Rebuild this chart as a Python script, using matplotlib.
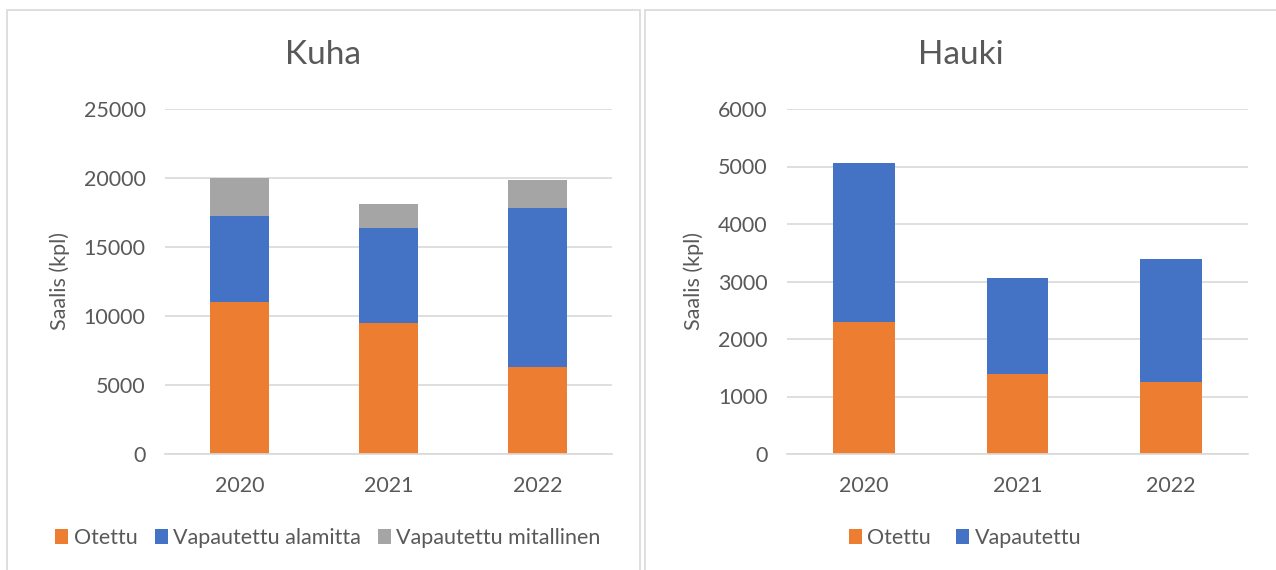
import matplotlib.pyplot as plt
import numpy as np
from matplotlib.patches import Rectangle

plt.rcParams['font.family'] = ['Lato', 'DejaVu Sans']

years = ["2020", "2021", "2022"]

kuha_otettu = [11050, 9470, 6300]
kuha_alamitta = [6220, 6930, 11550]
kuha_mitallinen = [2750, 1740, 2010]
kuha_labels = ["Otettu", "Vapautettu alamitta", "Vapautettu mitallinen"]

hauki_otettu = [2290, 1400, 1250]
hauki_vapautettu = [2775, 1660, 2135]
hauki_labels = ["Otettu", "Vapautettu"]

ORANGE = "#ed7d31"
BLUE = "#4472c4"
GRAY = "#a5a5a5"
TEXT = "#595959"
GRID = "#d9d9d9"
FS = 15.5

fig = plt.figure(figsize=(12.76, 5.7), dpi=100)

# panel borders and titles (titles are centred on the panel, not the axes)
for (x0, x1), title in zip([(7, 640), (645, 1290)], ["Kuha", "Hauki"]):
    fig.patches.append(Rectangle((x0 / 1276, -0.05), (x1 - x0) / 1276, 1.05 - 10 / 570,
                                 transform=fig.transFigure, fill=False,
                                 edgecolor=GRID, lw=1.2))
    xc = (x0 + min(x1, 1276)) / 2 / 1276
    fig.text(xc, 1 - 55 / 570, title, ha="center", va="center",
             fontsize=24, color=TEXT)


def style(ax, ymax, step):
    ax.set_xlim(-0.5, 2.5)
    ax.set_ylim(0, ymax)
    ax.set_yticks(np.arange(0, ymax + 1, step))
    ax.grid(axis="y", color=GRID, lw=1.2)
    ax.set_axisbelow(True)
    for s in ["top", "right", "left"]:
        ax.spines[s].set_visible(False)
    ax.spines["bottom"].set_color(GRID)
    ax.spines["bottom"].set_linewidth(1.2)
    ax.tick_params(length=0, labelsize=FS, colors=TEXT)
    ax.tick_params(axis="x", pad=16)
    ax.tick_params(axis="y", pad=14)
    ax.set_ylabel("Saalis (kpl)", fontsize=FS, color=TEXT, labelpad=10)


x = np.arange(len(years))
w = 0.4

ax1 = fig.add_axes([165 / 1276, 1 - 454 / 570, 447 / 1276, 345 / 570])
ax1.bar(x, kuha_otettu, w, color=ORANGE, label=kuha_labels[0])
ax1.bar(x, kuha_alamitta, w, bottom=kuha_otettu, color=BLUE, label=kuha_labels[1])
ax1.bar(x, kuha_mitallinen, w, bottom=np.add(kuha_otettu, kuha_alamitta),
        color=GRAY, label=kuha_labels[2])
ax1.set_xticks(x, years)
style(ax1, 25000, 5000)
ax1.legend(loc="center", bbox_to_anchor=((328 - 165) / 447, -84 / 345), ncol=3,
           frameon=False, fontsize=FS, labelcolor=TEXT, handlelength=0.6,
           handleheight=0.7, handletextpad=0.25, columnspacing=0.8)

ax2 = fig.add_axes([787 / 1276, 1 - 454 / 570, 461 / 1276, 345 / 570])
ax2.bar(x, hauki_otettu, w, color=ORANGE, label=hauki_labels[0])
ax2.bar(x, hauki_vapautettu, w, bottom=hauki_otettu, color=BLUE, label=hauki_labels[1])
ax2.set_xticks(x, years)
style(ax2, 6000, 1000)
ax2.legend(loc="center", bbox_to_anchor=((965 - 787) / 461, -84 / 345), ncol=2,
           frameon=False, fontsize=FS, labelcolor=TEXT, handlelength=0.6,
           handleheight=0.7, handletextpad=0.25, columnspacing=1.2)

fig.savefig("out.png", dpi=100)
